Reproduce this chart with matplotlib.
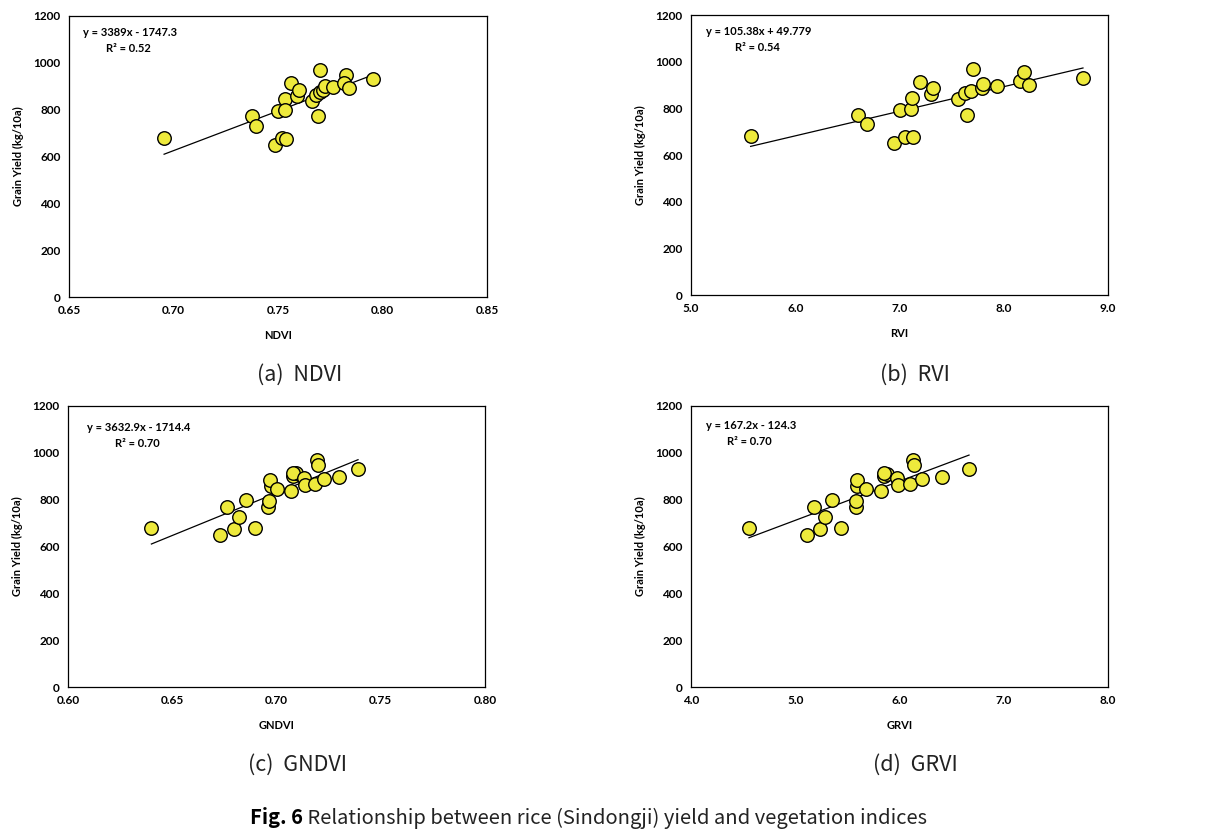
import matplotlib
matplotlib.use("Agg")
import matplotlib.pyplot as plt
import numpy as np
from matplotlib.ticker import FormatStrFormatter

# ---- data ----
ndvi_x = [0.6955, 0.7374, 0.7396, 0.7484, 0.750, 0.7519, 0.754, 0.7535, 0.7535, 0.7564, 0.7591, 0.7599,
          0.7664, 0.768, 0.7691, 0.7703, 0.770, 0.7715, 0.7726, 0.7765, 0.7824, 0.7816, 0.7838, 0.7953]
ndvi_y = [680, 771, 730, 647, 794, 680, 675, 845, 798, 912, 859, 884,
          836, 864, 771, 968, 874, 884, 901, 895, 950, 915, 893, 929]

rvi_x = [5.572, 6.604, 6.684, 6.949, 7.003, 7.054, 7.131, 7.115, 7.118, 7.201, 7.300, 7.326,
         7.562, 7.626, 7.652, 7.687, 7.706, 7.789, 7.802, 7.939, 8.160, 8.192, 8.243, 8.760]
rvi_y = [681, 771, 731, 650, 795, 678, 677, 799, 845, 915, 861, 886,
         839, 865, 771, 875, 968, 888, 906, 895, 918, 956, 898, 931]

gndvi_x = [0.640, 0.6729, 0.6763, 0.6798, 0.6819, 0.6852, 0.6895, 0.6959, 0.6966, 0.6974, 0.697, 0.7004,
           0.707, 0.7078, 0.7094, 0.7078, 0.7132, 0.7135, 0.7183, 0.7196, 0.7201, 0.7228, 0.730, 0.7391]
gndvi_y = [680, 647, 770, 675, 728, 798, 677, 770, 795, 858, 884, 844,
           836, 901, 912, 915, 893, 861, 869, 968, 949, 889, 895, 929]

grvi_x = [4.556, 5.113, 5.177, 5.241, 5.289, 5.356, 5.436, 5.580, 5.586, 5.596, 5.596, 5.675,
          5.823, 5.848, 5.883, 5.848, 5.976, 5.982, 6.098, 6.130, 6.140, 6.220, 6.405, 6.667]
grvi_y = [680, 647, 768, 675, 728, 798, 677, 770, 794, 858, 884, 844,
          836, 901, 909, 915, 893, 861, 869, 968, 949, 889, 895, 929]

slopes = [3389, 105.38, 3632.9, 167.2]
intercepts = [-1747.3, 49.779, -1714.4, -124.3]
eq_texts = ["y = 3389x - 1747.3", "y = 105.38x + 49.779", "y = 3632.9x - 1714.4", "y = 167.2x - 124.3"]
r2_texts = ["R\u00b2 = 0.52", "R\u00b2 = 0.54", "R\u00b2 = 0.70", "R\u00b2 = 0.70"]
x_labels = ["NDVI", "RVI", "GNDVI", "GRVI"]
sub_captions = ["(a)  NDVI", "(b)  RVI", "(c)  GNDVI", "(d)  GRVI"]
x_ticks = [[0.65, 0.70, 0.75, 0.80, 0.85], [5.0, 6.0, 7.0, 8.0, 9.0],
           [0.60, 0.65, 0.70, 0.75, 0.80], [4.0, 5.0, 6.0, 7.0, 8.0]]
x_fmt = ["%.2f", "%.1f", "%.2f", "%.1f"]
y_ticks = [0, 200, 400, 600, 800, 1000, 1200]
caption_bold = "Fig. 6"
caption_rest = " Relationship between rice (Sindongji) yield and vegetation indices"

xs = [ndvi_x, rvi_x, gndvi_x, grvi_x]
ys = [ndvi_y, rvi_y, gndvi_y, grvi_y]

# ---- layout ----
W, H = 1220, 835
fig = plt.figure(figsize=(W / 100, H / 100), dpi=100)
fig.patch.set_facecolor("white")

boxes = [(69, 16, 487, 297), (691, 15, 1108, 295), (68, 406, 485, 687), (691, 406, 1108, 687)]
eq_pos = [((0.033, 0.94), (0.089, 0.883)), ((0.036, 0.94), (0.105, 0.883)),
          ((0.045, 0.925), (0.113, 0.868)), ((0.036, 0.932), (0.086, 0.875))]
cap_pos = [(300, 375), (915, 375), (297, 765), (915, 765)]

tick_font = "Lato"
cap_font = ["Noto Sans CJK KR", "DejaVu Sans"]

for i in range(4):
    l, t, r, b = boxes[i]
    ax = fig.add_axes([l / W, 1 - b / H, (r - l) / W, (b - t) / H])
    ax.scatter(xs[i], ys[i], s=95, facecolor="#EEEA3C", edgecolor="black", linewidth=1.0, zorder=3)
    xmin, xmax = min(xs[i]), max(xs[i])
    xl = np.array([xmin, xmax])
    ax.plot(xl, slopes[i] * xl + intercepts[i], color="black", linewidth=0.9, zorder=2)
    ax.set_xlim(x_ticks[i][0], x_ticks[i][-1])
    ax.set_ylim(0, 1200)
    ax.set_xticks(x_ticks[i])
    ax.set_yticks(y_ticks)
    ax.xaxis.set_major_formatter(FormatStrFormatter(x_fmt[i]))
    ax.tick_params(length=0, pad=6, labelsize=8.5)
    for lab in ax.get_xticklabels() + ax.get_yticklabels():
        lab.set_fontfamily(tick_font)
        lab.set_fontweight("bold")
    for sp in ax.spines.values():
        sp.set_linewidth(0.9)
        sp.set_color("black")
    ax.set_xlabel(x_labels[i], fontsize=8, fontweight="bold", family=tick_font, labelpad=10)
    ax.set_ylabel("Grain Yield (kg/10a)", fontsize=8, fontweight="bold", family=tick_font, labelpad=7)
    (ex, ey), (rx, ry) = eq_pos[i]
    ax.text(ex, ey, eq_texts[i], transform=ax.transAxes, fontsize=8, fontweight="bold",
            family=tick_font, va="center", ha="left")
    ax.text(rx, ry, r2_texts[i], transform=ax.transAxes, fontsize=8, fontweight="bold",
            family=tick_font, va="center", ha="left")
    cx, cy = cap_pos[i]
    fig.text(cx / W, 1 - cy / H, sub_captions[i], fontsize=15.5, family=cap_font,
             ha="center", va="center", color="#222222")

t1 = fig.text(250 / W, 1 - 818 / H, caption_bold, fontsize=14.5, family=cap_font,
              fontweight="bold", ha="left", va="center")
fig.canvas.draw()
bb = t1.get_window_extent()
fig.text(bb.x1 / W, 1 - 818 / H, caption_rest, fontsize=14.5, family=cap_font,
         ha="left", va="center", color="#222222")

fig.savefig("out.png", dpi=100, facecolor="white")
